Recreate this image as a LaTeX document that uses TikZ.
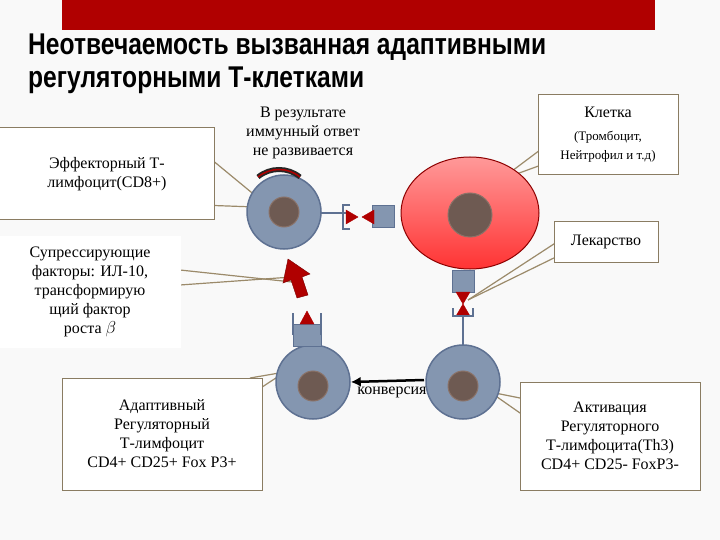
\documentclass[tikz,border=0pt]{standalone}
\usepackage{fontspec}
\usetikzlibrary{shapes.geometric,arrows.meta}
\setmainfont{Liberation Serif}
\newfontfamily\titlefont{Liberation Sans}
\begin{document}
\begin{tikzpicture}[x=1pt,y=-1pt,
  cellc/.style={circle,fill=cellblue,draw=celledge,line width=1.5pt,minimum size=74pt,inner sep=0},
  nuc/.style={circle,fill=nucbrown,draw=nucedge,line width=1pt,minimum size=30pt,inner sep=0},
  rec/.style={rectangle,fill=cellblue,draw=celledge,line width=1pt,minimum width=22pt,minimum height=22pt,inner sep=0},
  lbl/.style={rectangle,fill=white,draw=boxedge,line width=1pt,align=center,font=\fontsize{16}{19}\selectfont,inner sep=3pt},
  callout/.style={draw=calloutc,line width=1.2pt},
  tri/.style={fill=tricol,draw=tricol}]
\definecolor{cellblue}{HTML}{8496B0}
\definecolor{celledge}{HTML}{5E7192}
\definecolor{nucbrown}{HTML}{6E5A52}
\definecolor{nucedge}{HTML}{8A7268}
\definecolor{boxedge}{HTML}{8A7C62}
\definecolor{calloutc}{HTML}{9B8A6A}
\definecolor{tricol}{HTML}{B00000}
\definecolor{redbar}{HTML}{B00000}
\useasboundingbox[fill=white!95!gray] (0,0) rectangle (720,540);
\fill[redbar] (62,0) rectangle (655,30);
\node[anchor=west,font=\titlefont\bfseries\fontsize{30}{32}\selectfont,inner sep=0] (t1) at (28,47) {\scalebox{0.82}[1]{Неотвечаемость вызванная адаптивными}};
\node[anchor=west,font=\titlefont\bfseries\fontsize{30}{32}\selectfont,inner sep=0] (t2) at (28,80) {\scalebox{0.82}[1]{регуляторными Т-клетками}};
% callout lines (behind)
\draw[callout] (200,150) -- (257,197); \draw[callout] (200,205) -- (255,207);
\draw[callout] (180,270) -- (292,282); \draw[callout] (180,285) -- (292,277);
\draw[callout] (250,378) -- (285,372); \draw[callout] (250,395) -- (285,372);
\draw[callout] (540,150) -- (500,180); \draw[callout] (555,160) -- (500,180);
\draw[callout] (560,240) -- (468,300); \draw[callout] (560,255) -- (468,300);
\draw[callout] (530,400) -- (490,392); \draw[callout] (530,420) -- (490,392);
% connectors
\draw[celledge,line width=1.5pt] (310,213) -- (350,213);
\draw[celledge,line width=1.5pt] (463,310) -- (463,350);
% red cell
\node[ellipse,draw=tricol!80!black,line width=1pt,top color=red!40!white,bottom color=red!80,minimum width=138pt,minimum height=112pt,inner sep=0] (rc) at (470,213) {};
\node[nuc,minimum size=44pt] (rn) at (470,215) {};
% receptors on red cell
\node[rec] (r1) at (383,217) {};
\node[rec] (r2) at (463,281) {};
\fill[tri] (374,210) -- (374,224) -- (362,217) -- cycle;
\fill[tri] (346,210) -- (346,224) -- (358,217) -- cycle;
\draw[celledge,line width=1.5pt] (350,205) -- (343,205) -- (343,229) -- (350,229);
\fill[tri] (456,292) -- (470,292) -- (463,304) -- cycle;
\fill[tri] (456,316) -- (470,316) -- (463,304) -- cycle;
\draw[celledge,line width=1.5pt] (453,308) -- (453,316) -- (473,316) -- (473,308);
% cells
\node[cellc] (cell1) at (284,212) {}; \node[nuc] (n1) at (284,212) {};
\node[cellc] (cell2) at (313,382) {}; \node[nuc] (n2) at (313,386) {};
\node[cellc] (cell3) at (463,382) {}; \node[nuc] (n3) at (463,386) {};
\node[rec,minimum width=28pt] (r3) at (307,335) {};
\draw[celledge,line width=1.5pt] (293,335) -- (293,313); \draw[celledge,line width=1.5pt] (321,335) -- (321,313);
\fill[tri] (300,324) -- (314,324) -- (307,311) -- cycle;
% arch
\draw[black!85,line width=5pt] (258,177) .. controls (270,167) and (288,167) .. (300,177);
\draw[tricol,line width=1.5pt] (258,177) .. controls (270,167) and (288,167) .. (300,177);
% red arrow
\fill[tricol,draw=tricol!70!black] (297,298) -- (291,280) -- (283,283) -- (288,259) -- (310,274) -- (302,277) -- (308,295) -- cycle;
% conversion arrow
\coordinate (ca) at (424,380);
\draw[-{Latex[length=10pt,width=10pt]},line width=2.5pt] (ca) -- (cell2.east);
% labels
\node[lbl,minimum width=215pt,minimum height=92pt] (eff) at (107,174) {Эффекторный Т-\\лимфоцит(CD8+)};
\node[align=center,font=\fontsize{16}{19}\selectfont,inner sep=0] (res) at (303,133) {В результате\\иммунный ответ\\не развивается};
\node[lbl,minimum width=140pt,minimum height=80pt,align=center] (kl) at (608,135) {Клетка\\[4pt]{\fontsize{13}{15}\selectfont (Тромбоцит,}\\{\fontsize{13}{15}\selectfont Нейтрофил и т.д)}};
\node[lbl,minimum width=104pt,minimum height=40pt] (lek) at (606,242) {Лекарство};
\node[rectangle,fill=white,align=center,font=\fontsize{16}{19}\selectfont,inner sep=2pt,minimum width=182pt,minimum height=112pt] (sup) at (90,292) {Супрессирующие\\факторы: ИЛ-10,\\трансформирую\\щий фактор\\роста $\beta$};
\node[lbl,minimum width=200pt,minimum height=112pt] (adp) at (162,434) {Адаптивный\\Регуляторный\\Т-лимфоцит\\CD4+ CD25+ Fox P3+};
\node[lbl,minimum width=180pt,minimum height=108pt] (act) at (610,436) {Активация\\Регуляторного\\Т-лимфоцита(Th3)\\CD4+ CD25- FoxP3-};
\node[font=\fontsize{16}{19}\selectfont,inner sep=1pt] (conv) at (392,392) {конверсия};
\end{tikzpicture}
\end{document}
